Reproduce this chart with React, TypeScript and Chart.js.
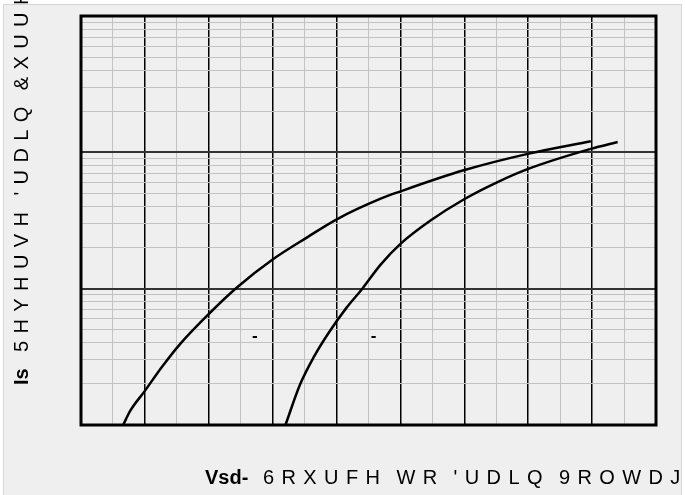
import React, { useEffect, useRef } from "react";
import { Chart, registerables } from "chart.js";

Chart.register(...registerables);

// Curve A (left curve)
const vsdA = [0.266, 0.277, 0.3, 0.326, 0.355, 0.4, 0.444, 0.501, 0.554, 0.601, 0.669, 0.7, 0.799, 0.901, 0.998];
const isA = [1, 1.27, 1.78, 2.64, 3.92, 6.52, 10.2, 16.5, 23.8, 32.4, 45.7, 51.7, 73.8, 97.8, 120.5];
// Curve B (right curve)
const vsdB = [0.52, 0.543, 0.564, 0.588, 0.616, 0.64, 0.669, 0.7, 0.747, 0.799, 0.852, 0.901, 0.998, 1.04];
const isB = [1, 1.99, 3.13, 4.77, 7.29, 9.95, 15.0, 21.3, 31.6, 45.1, 60.5, 75.9, 106, 119];

// Grid (no tick labels are shown in the reference)
const xGrid = [0.2, 0.25, 0.3, 0.35, 0.4, 0.45, 0.5, 0.55, 0.6, 0.65, 0.7, 0.75, 0.8, 0.85, 0.9, 0.95, 1.0, 1.05, 1.1];
const yDecades = [1, 10, 100, 1000];
const yMultiples = [1, 2, 3, 4, 5, 6, 7, 8, 9];

// Titles (kept as they appear in the reference)
const yTitleBold = "Is";
const yTitleRest = "5HYHUVH 'UDLQ &XUUHQW";
const xTitleBold = "Vsd-";
const xTitleRest = "6RXUFH WR 'UDLQ 9ROWDJH";
const curveMarks = ["-", "-"];
const curveMarkAt = [
  { x: 0.472, y: 4.5 },
  { x: 0.658, y: 4.5 },
];

const FONT = "'Liberation Sans', Arial, sans-serif";

function spacedText(ctx: CanvasRenderingContext2D, text: string, x: number, y: number, ls: number) {
  let cx = x;
  for (const ch of text) {
    ctx.fillText(ch, cx, y);
    cx += ch === " " ? 9 : ctx.measureText(ch).width + ls;
  }
}

const isMajorLog = (v: number) => Math.abs(Math.log10(v) - Math.round(Math.log10(v))) < 1e-9;

const decorPlugin = {
  id: "decor",
  beforeDraw(chart: any) {
    const ctx = chart.ctx as CanvasRenderingContext2D;
    ctx.save();
    ctx.fillStyle = "#ffffff";
    ctx.fillRect(0, 0, chart.width, chart.height);
    ctx.fillStyle = "#efefef";
    ctx.fillRect(3, 4, 679, 495);
    ctx.strokeStyle = "#d6d6d6";
    ctx.lineWidth = 1;
    ctx.strokeRect(3.5, 4.5, 678, 495);
    ctx.restore();
  },
  afterDraw(chart: any) {
    const ctx = chart.ctx as CanvasRenderingContext2D;
    const a = chart.chartArea;
    ctx.save();
    // frame
    ctx.strokeStyle = "#000";
    ctx.lineWidth = 3;
    ctx.strokeRect(a.left, a.top, a.right - a.left, a.bottom - a.top);

    // curve marks
    ctx.fillStyle = "#000";
    ctx.font = `bold 17px ${FONT}`;
    ctx.textAlign = "center";
    ctx.textBaseline = "middle";
    curveMarks.forEach((m, i) => {
      const px = chart.scales.x.getPixelForValue(curveMarkAt[i].x);
      const py = chart.scales.y.getPixelForValue(curveMarkAt[i].y);
      ctx.fillText(m, px, py);
    });

    // x title
    ctx.textAlign = "left";
    ctx.textBaseline = "alphabetic";
    ctx.font = `bold 20px ${FONT}`;
    ctx.fillText(xTitleBold, 205, 484);
    ctx.font = `20px ${FONT}`;
    spacedText(ctx, xTitleRest, 263, 484, 7.4);

    // y title
    ctx.translate(28, 385);
    ctx.rotate(-Math.PI / 2);
    ctx.font = `bold 20px ${FONT}`;
    ctx.fillText(yTitleBold, 0, 0);
    ctx.font = `20px ${FONT}`;
    spacedText(ctx, yTitleRest, 33, 0, 7.4);
    ctx.restore();
  },
};

export default function App() {
  const ref = useRef<HTMLCanvasElement | null>(null);

  useEffect(() => {
    if (!ref.current) return;
    const yTicks: number[] = [];
    yDecades.slice(0, -1).forEach((d) => yMultiples.forEach((m) => yTicks.push(d * m)));
    yTicks.push(yDecades[yDecades.length - 1]);

    const chart = new Chart(ref.current, {
      type: "line",
      data: {
        datasets: [
          {
            data: vsdA.map((x, i) => ({ x, y: isA[i] })),
            borderColor: "#000",
            borderWidth: 2.5,
            pointRadius: 0,
            cubicInterpolationMode: "monotone",
            fill: false,
          },
          {
            data: vsdB.map((x, i) => ({ x, y: isB[i] })),
            borderColor: "#000",
            borderWidth: 2.5,
            pointRadius: 0,
            cubicInterpolationMode: "monotone",
            fill: false,
          },
        ],
      },
      options: {
        animation: false,
        responsive: false,
        devicePixelRatio: 1,
        layout: { padding: { left: 81, top: 16, right: 29, bottom: 70 } },
        plugins: { legend: { display: false }, tooltip: { enabled: false } },
        scales: {
          x: {
            type: "linear",
            min: xGrid[0],
            max: xGrid[xGrid.length - 1],
            afterBuildTicks: (s: any) => {
              s.ticks = xGrid.map((v) => ({ value: v }));
            },
            ticks: { display: false },
            grid: {
              drawTicks: false,
              color: (c: any) => (c.index % 2 === 0 ? "#000000" : "#c2c2c2"),
              lineWidth: (c: any) => (c.index % 2 === 0 ? 1.5 : 1),
            },
            border: { display: false },
          },
          y: {
            type: "logarithmic",
            min: yDecades[0],
            max: yDecades[yDecades.length - 1],
            afterBuildTicks: (s: any) => {
              s.ticks = yTicks.map((v) => ({ value: v }));
            },
            ticks: { display: false },
            grid: {
              drawTicks: false,
              color: (c: any) => (c.tick && isMajorLog(c.tick.value) ? "#333333" : "#c2c2c2"),
              lineWidth: (c: any) => (c.tick && isMajorLog(c.tick.value) ? 2 : 1),
            },
            border: { display: false },
          },
        },
      },
      plugins: [decorPlugin],
    } as any);
    return () => chart.destroy();
  }, []);

  return (
    <div style={{ position: "fixed", left: 0, top: 0, width: 685, height: 495 }}>
      <canvas ref={ref} width={685} height={495} style={{ display: "block" }} />
    </div>
  );
}
